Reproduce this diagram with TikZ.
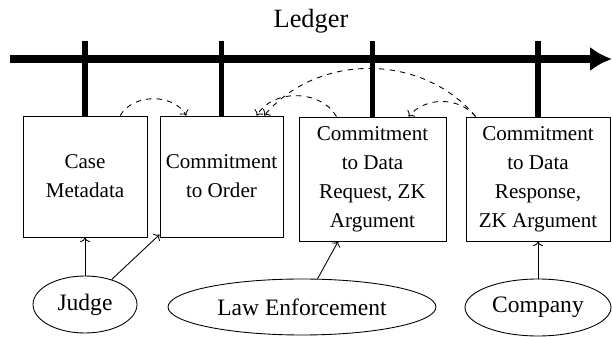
\documentclass[tikz,border=0pt]{standalone}
\usepackage{fontspec}
\setmainfont{Liberation Serif}
\usetikzlibrary{arrows.meta,shapes.geometric,positioning}

\begin{document}
\begin{tikzpicture}[x=0.02cm, y=-0.02cm,
  record/.style={draw, line width=0.5pt, rectangle, align=center,
    inner sep=1pt, font=\fontsize{12}{16.5}\selectfont},
  party/.style={draw, line width=0.5pt, ellipse, inner sep=0pt,
    font=\fontsize{13.4}{16}\selectfont},
  ledgertick/.style={line width=3pt},
  pointer/.style={->, line width=0.5pt},
  depends/.style={->, dashed, line width=0.5pt}]

\useasboundingbox (0,0) rectangle (612,337);

% ----------------------
% Ledger time line
% ----------------------
\node[font=\fontsize{15}{18}\selectfont] (title) at (311,21) {Ledger};

\coordinate (axisstart) at (10,59);
\coordinate (axisend) at (612,59);
\coordinate (ticktop) at (0,41);
\draw[line width=4pt, -{Latex[length=12.5pt,width=14pt]}] (axisstart) -- (axisend);

% ----------------------
% Records on the ledger
% ----------------------
\node[
  record,
  minimum width=2.48cm,
  minimum height=2.42cm
] (case) at (85,176.5)
{Case\\Metadata};

\node[
  record,
  minimum width=2.46cm,
  minimum height=2.42cm
] (order) at (221.5,176.5)
{Commitment\\to Order};

\node[
  record,
  minimum width=2.94cm,
  minimum height=2.48cm
] (req) at (372.5,179)
{Commitment\\to Data\\Request, ZK\\Argument};

\node[
  record,
  minimum width=2.88cm,
  minimum height=2.48cm
] (resp) at (538,179)
{Commitment\\to Data\\Response,\\ZK Argument};

\draw[ledgertick] (case.north) -- (case.north |- ticktop);
\draw[ledgertick] (order.north) -- (order.north |- ticktop);
\draw[ledgertick] (req.north) -- (req.north |- ticktop);
\draw[ledgertick] (resp.north) -- (resp.north |- ticktop);

% ----------------------
% References between records
% ----------------------
\draw[depends] (case.60) to[bend left=60] (order.120);
\draw[depends] (req.120) to[bend right=60] (order.60);
\draw[depends] (resp.135) to[bend right=50] (order.55);
\draw[depends] (resp.135) to[bend right=50] (req.60);

% ----------------------
% Parties
% ----------------------
\node[
  party,
  minimum width=2.08cm,
  minimum height=1.14cm
] (judge) at (85,304.5)
{Judge};

\node[
  party,
  minimum width=5.36cm,
  minimum height=1.12cm
] (law) at (302,307)
{Law Enforcement};

\node[
  party,
  minimum width=2.92cm,
  minimum height=1.14cm
] (company) at (538,307.5)
{Company};

\draw[pointer] (judge) -- (case);
\draw[pointer] (judge) -- (order);
\draw[pointer] (law) -- (req);
\draw[pointer] (company) -- (resp);

\end{tikzpicture}
\end{document}
